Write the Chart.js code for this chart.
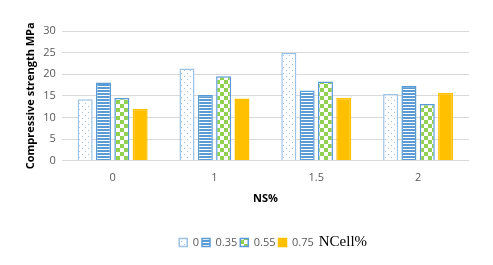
<!DOCTYPE html>
<html>
<head>
<meta charset="utf-8">
<script src="https://cdn.jsdelivr.net/npm/chart.js@4/dist/chart.umd.min.js"></script>
<style>
  html,body{margin:0;padding:0;background:#fff;}
  #wrap{width:493px;height:265px;position:relative;}
</style>
</head>
<body>
<div id="wrap"><canvas id="c" width="493" height="265"></canvas></div>
<script>
const categories = ["0", "1", "1.5", "2"];
const seriesNames = ["0", "0.35", "0.55", "0.75"];
const s0 = [14.2, 21.3, 24.9, 15.4];
const s035 = [18.1, 15.2, 16.2, 17.3];
const s055 = [14.5, 19.5, 18.3, 13.1];
const s075 = [12.0, 14.4, 14.5, 15.7];
const yTitle = "Compressive strength MPa";
const xTitle = "NS%";
const legendSuffix = "NCell%";

function makePattern(w, h, draw) {
  const c = document.createElement('canvas');
  c.width = w; c.height = h;
  const g = c.getContext('2d');
  draw(g);
  return document.getElementById('c').getContext('2d').createPattern(c, 'repeat');
}
const dots = makePattern(6, 6, g => {
  g.fillStyle = '#fff'; g.fillRect(0,0,6,6);
  g.fillStyle = '#9DC3E6'; g.fillRect(1,1,1,1); g.fillRect(4,4,1,1);
});
const stripes = makePattern(3, 3, g => {
  g.fillStyle = '#5B9BD5'; g.fillRect(0,0,3,3);
  g.fillStyle = '#fff'; g.fillRect(0,2,3,1);
});
const checks = makePattern(8, 8, g => {
  g.fillStyle = '#fff'; g.fillRect(0,0,8,8);
  g.fillStyle = '#92D050'; g.fillRect(0,0,4,4); g.fillRect(4,4,4,4);
});

const suffixPlugin = {
  id: 'suffix',
  afterDraw(chart) {
    const lg = chart.legend;
    if (!lg || !lg.legendHitBoxes || !lg.legendHitBoxes.length) return;
    const last = lg.legendHitBoxes[lg.legendHitBoxes.length - 1];
    const ctx = chart.ctx;
    ctx.save();
    ctx.font = '15px "Liberation Serif", serif';
    ctx.fillStyle = '#000';
    ctx.textBaseline = 'middle';
    ctx.fillText(legendSuffix, last.left + last.width + 5, last.top + last.height / 2);
    ctx.restore();
  }
};

const common = { barPercentage: 0.82, categoryPercentage: 0.72, borderWidth: 1.5 };
new Chart(document.getElementById('c'), {
  type: 'bar',
  data: {
    labels: categories,
    datasets: [
      Object.assign({ label: seriesNames[0], data: s0, backgroundColor: dots, borderColor: '#9DC3E6' }, common),
      Object.assign({ label: seriesNames[1], data: s035, backgroundColor: stripes, borderColor: '#5B9BD5' }, common),
      Object.assign({ label: seriesNames[2], data: s055, backgroundColor: checks, borderColor: '#5B9BD5' }, common),
      Object.assign({ label: seriesNames[3], data: s075, backgroundColor: '#FFC000', borderColor: '#FFC000' }, common)
    ]
  },
  options: {
    responsive: false,
    animation: false,
    devicePixelRatio: 1,
    layout: { padding: { left: 24, right: 24, top: 31, bottom: 7 } },
    plugins: {
      legend: {
        position: 'bottom',
        labels: {
          boxWidth: 8, boxHeight: 8, padding: 3,
          color: '#595959',
          font: { family: '"Open Sans", sans-serif', size: 11 }
        }
      },
      tooltip: { enabled: false },
      title: { display: false }
    },
    scales: {
      x: {
        grid: { display: false },
        border: { display: false },
        ticks: { color: '#595959', font: { family: '"Open Sans", sans-serif', size: 11 }, padding: 3 },
        title: { display: true, text: xTitle, color: '#000', font: { family: '"Open Sans", sans-serif', size: 11, weight: 'bold' }, padding: { top: 4, bottom: 29 } }
      },
      y: {
        min: 0, max: 30,
        ticks: { stepSize: 5, color: '#595959', font: { family: '"Open Sans", sans-serif', size: 11 }, padding: 6 },
        grid: { color: '#D9D9D9', lineWidth: 1, drawTicks: false },
        border: { display: false },
        title: { display: true, text: yTitle, color: '#000', font: { family: '"Open Sans", sans-serif', size: 11, weight: 'bold' }, padding: { top: 0, bottom: 0 } }
      }
    }
  },
  plugins: [suffixPlugin]
});
</script>
</body>
</html>
